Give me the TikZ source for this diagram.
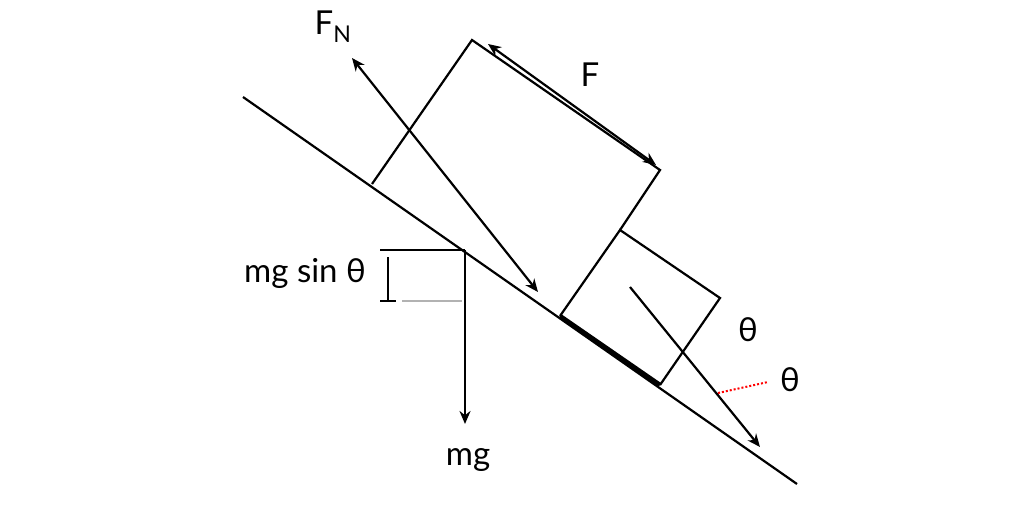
\documentclass[tikz,border=0pt]{standalone}
\usepackage{fontspec}
\setmainfont{Lato}
\usetikzlibrary{arrows.meta}
\begin{document}
\begin{tikzpicture}[x=1pt,y=-1pt,
  ln/.style={line width=2.2pt,black},
  arr/.style={ln,-{Stealth[length=13pt,width=11pt]}},
  darr/.style={ln,{Stealth[length=13pt,width=11pt]}-{Stealth[length=13pt,width=11pt]}},
  lbl/.style={font=\fontsize{33}{38}\selectfont}]
\useasboundingbox (0,0) rectangle (1024,517);
\coordinate (i1) at (243,97); \coordinate (i2) at (797,484);
\draw[ln] (i1) -- (i2);
% big rectangle
\coordinate (a) at (372,184); \coordinate (b) at (472,40);
\coordinate (c) at (660,170); \coordinate (d) at (620,230);
\draw[ln] (a) -- (b) -- (c) -- (d);
% small box
\coordinate (p) at (560,316); \coordinate (q) at (620,230);
\coordinate (r) at (720,298); \coordinate (s) at (660,385);
\draw[ln] (p) -- (q) -- (r) -- (s);
\draw[line width=4.5pt] (p) -- (s);
% F
\coordinate (f1) at (488,44); \coordinate (f2) at (656,165);
\draw[darr] (f1) -- (f2);
\node[lbl] (F) at (590,75) {F};
% FN
\coordinate (n1) at (352,58); \coordinate (n2) at (538,292);
\draw[darr] (n1) -- (n2);
\node[lbl] (FN) at (333,27) {F\textsubscript{N}};
% mg
\coordinate (g0) at (465,250); \coordinate (g1) at (465,424);
\draw[arr] (g0) -- (g1);
\node[lbl] (mg) at (468,460) {mg};
\coordinate (h0) at (380,250);
\draw[ln] (h0) -- (g0);
\draw[ln] (388,257) -- (388,300);
\draw[ln] (380,301) -- (396,301);
\draw[line width=2.2pt,gray!60] (402,301) -- (462,301);
\node[lbl] (ms) at (305,273) {mg sin θ};
% component arrow
\coordinate (c0) at (630,287); \coordinate (c1) at (760,447);
\draw[arr] (c0) -- (c1);
\node[lbl] (t1) at (748,330) {θ};
\node[lbl] (t2) at (790,380) {θ};
\draw[red,dotted,line width=2pt] (718,393) -- (768,382);
\end{tikzpicture}
\end{document}
